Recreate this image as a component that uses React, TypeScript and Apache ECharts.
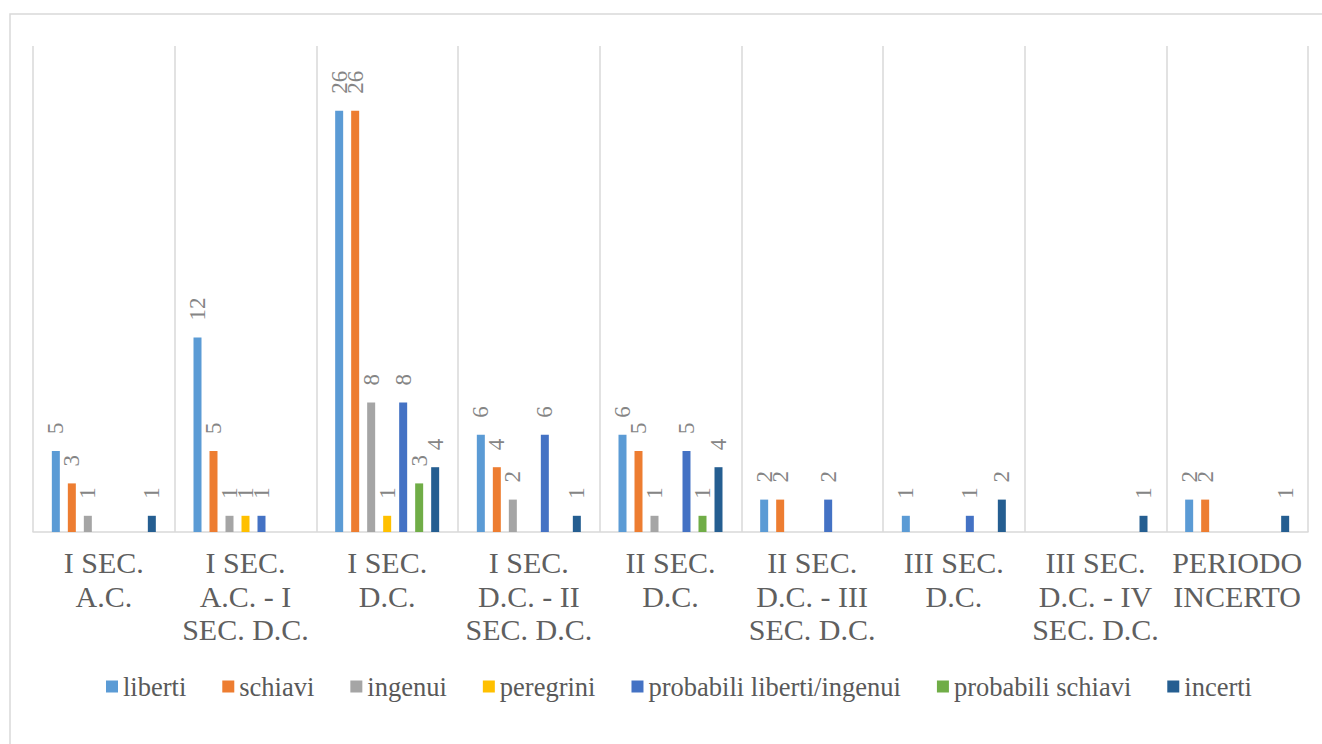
import React, { useEffect, useRef } from "react";
import * as echarts from "echarts";

const categories = [
  "I SEC. A.C.",
  "I SEC. A.C. - I SEC. D.C.",
  "I SEC. D.C.",
  "I SEC. D.C. - II SEC. D.C.",
  "II SEC. D.C.",
  "II SEC. D.C. - III SEC. D.C.",
  "III SEC. D.C.",
  "III SEC. D.C. - IV SEC. D.C.",
  "PERIODO INCERTO",
];

const seriesNames = [
  "liberti",
  "schiavi",
  "ingenui",
  "peregrini",
  "probabili liberti/ingenui",
  "probabili schiavi",
  "incerti",
];

const liberti = [5, 12, 26, 6, 6, 2, 1, null, 2];
const schiavi = [3, 5, 26, 4, 5, 2, null, null, 2];
const ingenui = [1, 1, 8, 2, 1, null, null, null, null];
const peregrini = [null, 1, 1, null, null, null, null, null, null];
const probabiliLibertiIngenui = [null, 1, 8, 6, 5, 2, 1, null, null];
const probabiliSchiavi = [null, null, 3, null, 1, null, null, null, null];
const incerti = [1, null, 4, 1, 4, null, 2, 1, 1];

const seriesValues = [
  liberti,
  schiavi,
  ingenui,
  peregrini,
  probabiliLibertiIngenui,
  probabiliSchiavi,
  incerti,
];

const colors = ["#5B9BD5", "#ED7D31", "#A5A5A5", "#FFC000", "#4472C4", "#70AD47", "#255E91"];

function wrap(s: string, max: number): string {
  const words = s.split(" ");
  const lines: string[] = [];
  let cur = "";
  for (const w of words) {
    const t = cur ? cur + " " + w : w;
    if (t.length > max && cur) {
      lines.push(cur);
      cur = w;
    } else {
      cur = t;
    }
  }
  if (cur) lines.push(cur);
  return lines.join("\n");
}

export default function App() {
  const ref = useRef<HTMLDivElement>(null);
  useEffect(() => {
    if (!ref.current) return;
    const chart = echarts.init(ref.current, null, { renderer: "svg" });
    const font = "Liberation Serif, Times New Roman, serif";
    chart.setOption({
      animation: false,
      color: colors,
      textStyle: { fontFamily: font },
      graphic: [
        {
          type: "rect",
          shape: { x: 10, y: 14, width: 1340, height: 760 },
          style: { fill: "none", stroke: "#d9d9d9", lineWidth: 1.5 },
          silent: true,
        },
      ],
      grid: { left: 33, right: 14, top: 46, bottom: 212 },
      legend: {
        data: seriesNames,
        left: 101,
        top: 668,
        itemWidth: 12,
        itemHeight: 12,
        itemGap: 36,
        icon: "rect",
        textStyle: { fontFamily: font, fontSize: 26.5, color: "#595959", lineHeight: 27 },
      },
      xAxis: {
        type: "category",
        data: categories,
        axisLine: { show: true, lineStyle: { color: "#d9d9d9", width: 1.5 } },
        axisTick: { show: false },
        splitLine: { show: true, lineStyle: { color: "#d9d9d9", width: 1.5 } },
        axisLabel: {
          interval: 0,
          margin: 14,
          fontFamily: font,
          fontSize: 30,
          lineHeight: 33.5,
          color: "#5f5f5f",
          formatter: (v: string) => wrap(v, 10),
        },
      },
      yAxis: {
        type: "value",
        min: 0,
        max: 30,
        show: false,
        splitLine: { show: false },
      },
      series: seriesNames.map((name, i) => ({
        name,
        type: "bar",
        data: seriesValues[i],
        barWidth: 8,
        barGap: "100%",
        itemStyle: { color: colors[i] },
        label: {
          show: true,
          position: "top",
          rotate: 90,
          align: "left",
          verticalAlign: "middle",
          distance: 17,
          fontFamily: font,
          fontSize: 23,
          color: "#858585",
        },
      })),
    });
    return () => chart.dispose();
  }, []);
  return <div ref={ref} style={{ width: 1322, height: 744, position: "absolute", left: 0, top: 0 }} />;
}
